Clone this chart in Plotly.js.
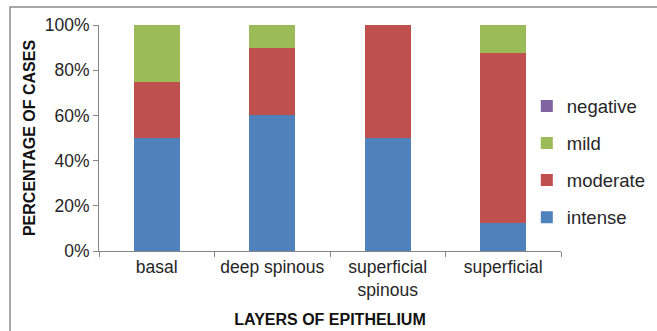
<!DOCTYPE html>
<html>
<head>
<meta charset="utf-8">
<script src="https://cdn.plot.ly/plotly-3.0.1.min.js"></script>
<style>
  html, body { margin: 0; padding: 0; background: #fff; }
  #chart { width: 657px; height: 331px; }
</style>
</head>
<body>
<div id="chart"></div>
<script>
// Layers of epithelium and the share of cases per staining intensity (%)
const layers = ['basal', 'deep spinous', 'superficial<br>spinous', 'superficial'];
const intense  = [50, 60, 50, 12.5];
const moderate = [25, 30, 50, 75];
const mild     = [25, 10, 0, 12.5];
const negative = [0, 0, 0, 0];
const yTicks = [0, 20, 40, 60, 80, 100];

const colors = {
  intense: '#4F81BD',
  moderate: '#C0504D',
  mild: '#9BBB59',
  negative: '#8064A2'
};

// stacked bottom-up; the legend lists them top-down
function series(name, values, rank) {
  return {
    type: 'bar',
    name: name,
    x: layers,
    y: values,
    legendgroup: name,
    legendrank: rank,
    marker: { color: colors[name] },
    hoverinfo: 'x+y+name'
  };
}

const data = [
  series('intense', intense, 4),
  series('moderate', moderate, 3),
  series('mild', mild, 2),
  series('negative', negative, 1)
];

const font = 'Liberation Sans, Arial, sans-serif';
const axisColor = '#868686';

const layout = {
  width: 657,
  height: 331,
  paper_bgcolor: '#ffffff',
  plot_bgcolor: '#ffffff',
  margin: { l: 99, r: 96, t: 25, b: 80, autoexpand: false },
  barmode: 'stack',
  bargap: 0.6,
  font: { family: font, size: 17.5, color: '#262626' },
  showlegend: true,
  legend: {
    x: 0.926, xanchor: 'left',
    y: 0.394, yanchor: 'middle',
    traceorder: 'grouped',
    tracegroupgap: 10,
    font: { family: font, size: 18.5, color: '#262626' },
    bgcolor: 'rgba(0,0,0,0)'
  },
  xaxis: {
    type: 'category',
    tickangle: 0,
    showline: true,
    linecolor: axisColor,
    linewidth: 1,
    ticks: 'outside',
    tickson: 'boundaries',
    ticklen: 5,
    tickcolor: axisColor,
    showgrid: false,
    zeroline: false,
    automargin: false,
    title: {
      text: '<b>LAYERS OF EPITHELIUM</b>',
      font: { family: font, size: 16, color: '#111' },
      standoff: 15
    }
  },
  yaxis: {
    range: [0, 100],
    tickvals: yTicks,
    ticktext: yTicks.map(v => v + '%'),
    showline: true,
    linecolor: axisColor,
    linewidth: 1,
    ticks: 'outside',
    ticklen: 5,
    tickcolor: axisColor,
    showgrid: false,
    zeroline: false,
    automargin: false,
    title: {
      text: '<b>PERCENTAGE OF CASES</b>',
      font: { family: font, size: 16, color: '#111' },
      standoff: 5
    }
  },
  shapes: [{
    // frame around the chart area
    type: 'rect',
    xref: 'paper', yref: 'paper',
    x0: -0.1926, x1: 1.5, y0: -0.6, y1: 1.0796,
    line: { color: '#8c8c8c', width: 1.5 },
    fillcolor: 'rgba(0,0,0,0)',
    layer: 'below'
  }]
};

Plotly.newPlot('chart', data, layout, { staticPlot: true, displayModeBar: false });
</script>
</body>
</html>
